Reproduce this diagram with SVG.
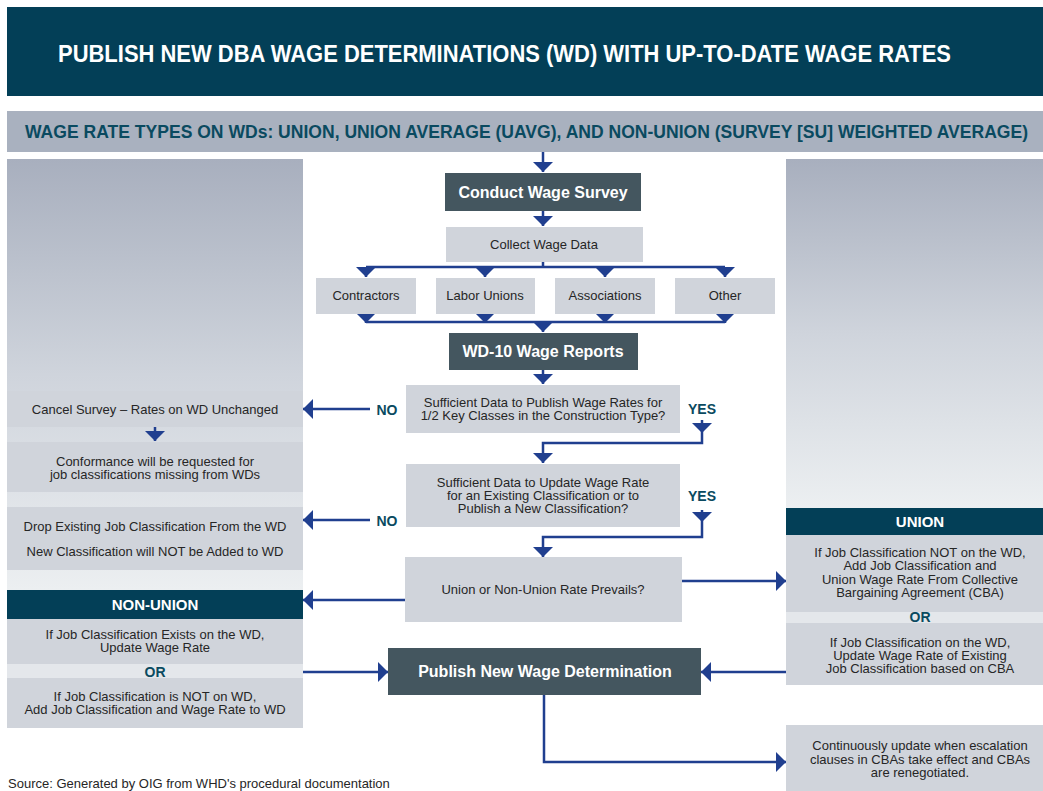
<svg xmlns="http://www.w3.org/2000/svg" width="1043" height="791" viewBox="0 0 1043 791">
<defs>
<linearGradient id="panelGrad" x1="0" y1="0" x2="0" y2="1">
<stop offset="0" stop-color="#a8afbe"/>
<stop offset="0.5" stop-color="#cfd4dc"/>
<stop offset="1" stop-color="#eceff1"/>
</linearGradient>
<marker id="arr" viewBox="0 0 10 20" refX="10" refY="10" markerWidth="10" markerHeight="20" orient="auto" markerUnits="userSpaceOnUse">
<path d="M0,0 L10,10 L0,20 z" fill="#203f8f"/>
</marker>
</defs>
<style>
.dark{fill:#44565f}
.light{fill:#d0d4db}
.teal{fill:#033f57}
.strip{fill:#e4e7eb}
.t{font-family:"Liberation Sans",Arial,sans-serif;font-size:13px;fill:#262626;text-anchor:middle}
.tb{font-family:"Liberation Sans",Arial,sans-serif;font-size:16px;font-weight:bold;fill:#ffffff;text-anchor:middle}
.lbl{font-family:"Liberation Sans",Arial,sans-serif;font-size:14px;font-weight:bold;fill:#0a4a60;text-anchor:middle}
.c{fill:none;stroke:#203f8f;stroke-width:2.5}
</style>
<rect width="1043" height="791" fill="#ffffff"/>
<g id="title">
<rect x="7" y="7" width="1036" height="89" class="teal"/>
<text x="58" y="62" font-family="Liberation Sans, Arial, sans-serif" font-size="23" font-weight="bold" fill="#ffffff" textLength="893" lengthAdjust="spacingAndGlyphs">PUBLISH NEW DBA WAGE DETERMINATIONS (WD) WITH UP-TO-DATE WAGE RATES</text>
</g>
<g id="subtitle">
<rect x="7" y="111" width="1036" height="41" fill="#a9b1bf"/>
<text x="25" y="138" font-family="Liberation Sans, Arial, sans-serif" font-size="17.5" font-weight="bold" fill="#0a4a60" textLength="1003" lengthAdjust="spacingAndGlyphs">WAGE RATE TYPES ON WDs: UNION, UNION AVERAGE (UAVG), AND NON-UNION (SURVEY [SU] WEIGHTED AVERAGE)</text>
</g>
<g id="left-panel"><rect x="7" y="159" width="296" height="431" fill="url(#panelGrad)"/></g>
<g id="right-panel"><rect x="786" y="159" width="257" height="349" fill="url(#panelGrad)"/></g>
<g id="connectors">
<path class="c" d="M543,152 V172" marker-end="url(#arr)"/>
<path class="c" d="M543,211 V226" marker-end="url(#arr)"/>
<path class="c" d="M543,262 V267 M366,267 H725"/>
<path class="c" d="M366,267 V277" marker-end="url(#arr)"/>
<path class="c" d="M485,267 V277" marker-end="url(#arr)"/>
<path class="c" d="M605,267 V277" marker-end="url(#arr)"/>
<path class="c" d="M725,267 V277" marker-end="url(#arr)"/>
<path class="c" d="M366,313 V323" marker-end="url(#arr)"/>
<path class="c" d="M485,313 V323" marker-end="url(#arr)"/>
<path class="c" d="M605,313 V323" marker-end="url(#arr)"/>
<path class="c" d="M725,313 V323" marker-end="url(#arr)"/>
<path class="c" d="M366,322 H725"/>
<path class="c" d="M543,322 V332" marker-end="url(#arr)"/>
<path class="c" d="M543,370 V384" marker-end="url(#arr)"/>
<path class="c" d="M370,409 H303" marker-end="url(#arr)"/>
<path class="c" d="M702,420 V433" marker-end="url(#arr)"/>
<path class="c" d="M702,433 V443 H543 V463" marker-end="url(#arr)"/>
<path class="c" d="M370,520 H303" marker-end="url(#arr)"/>
<path class="c" d="M702,510 V522" marker-end="url(#arr)"/>
<path class="c" d="M702,522 V537 H543 V557" marker-end="url(#arr)"/>
<path class="c" d="M682,581 H786" marker-end="url(#arr)"/>
<path class="c" d="M405,600 H303" marker-end="url(#arr)"/>
<path class="c" d="M303,672 H388" marker-end="url(#arr)"/>
<path class="c" d="M786,672 H701" marker-end="url(#arr)"/>
<path class="c" d="M544,695 V762 H786" marker-end="url(#arr)"/>
<path class="c" d="M155,427 V441" marker-end="url(#arr)"/>
</g>
<g id="conduct"><rect x="445" y="173" width="196" height="38" class="dark"/><text class="tb" x="543" y="198">Conduct Wage Survey</text></g>
<g id="collect"><rect x="446" y="227" width="197" height="35" class="light"/><text class="t" x="544" y="249">Collect Wage Data</text></g>
<g id="contractors"><rect x="316" y="278" width="100" height="36" class="light"/><text class="t" x="366" y="300">Contractors</text></g>
<g id="labor-unions"><rect x="436" y="278" width="99" height="36" class="light"/><text class="t" x="485" y="300">Labor Unions</text></g>
<g id="associations"><rect x="555" y="278" width="100" height="36" class="light"/><text class="t" x="605" y="300">Associations</text></g>
<g id="other"><rect x="675" y="278" width="100" height="36" class="light"/><text class="t" x="725" y="300">Other</text></g>
<g id="wd10"><rect x="449" y="333" width="189" height="37" class="dark"/><text class="tb" x="543" y="357">WD-10 Wage Reports</text></g>
<g id="decision1"><rect x="406" y="385" width="274" height="48" class="light"/>
<text class="t" x="543" y="407">Sufficient Data to Publish Wage Rates for</text>
<text class="t" x="543" y="420">1/2 Key Classes in the Construction Type?</text>
<text class="lbl" x="702" y="414">YES</text>
<text class="lbl" x="387" y="415">NO</text></g>
<g id="decision2"><rect x="406" y="464" width="274" height="63" class="light"/>
<text class="t" x="543" y="487">Sufficient Data to Update Wage Rate</text>
<text class="t" x="543" y="500">for an Existing Classification or to</text>
<text class="t" x="543" y="513">Publish a New Classification?</text>
<text class="lbl" x="702" y="501">YES</text>
<text class="lbl" x="387" y="526">NO</text></g>
<g id="decision3"><rect x="405" y="557" width="277" height="65" class="light"/><text class="t" x="543" y="594">Union or Non-Union Rate Prevails?</text></g>
<g id="publish"><rect x="388" y="648" width="313" height="47" class="dark"/><text class="tb" x="545" y="677">Publish New Wage Determination</text></g>
<g id="cancel"><rect x="7" y="391" width="296" height="36" class="light"/><text class="t" x="155" y="414">Cancel Survey – Rates on WD Unchanged</text></g>
<g id="conformance"><rect x="7" y="442" width="296" height="50" class="light"/>
<text class="t" x="155" y="466">Conformance will be requested for</text>
<text class="t" x="155" y="479">job classifications missing from WDs</text></g>
<g id="drop"><rect x="7" y="507" width="296" height="63" class="light"/>
<text class="t" x="155" y="531">Drop Existing Job Classification From the WD</text>
<text class="t" x="155" y="556">New Classification will NOT be Added to WD</text></g>
<g id="non-union">
<rect x="7" y="590" width="296" height="29" class="teal"/>
<text class="tb" x="155" y="610" style="font-size:15px">NON-UNION</text>
<rect x="7" y="619" width="296" height="45" class="light"/>
<text class="t" x="155" y="639">If Job Classification Exists on the WD,</text>
<text class="t" x="155" y="652">Update Wage Rate</text>
<rect x="7" y="664" width="296" height="14" class="strip"/>
<text class="lbl" x="155" y="677">OR</text>
<rect x="7" y="678" width="296" height="50" class="light"/>
<text class="t" x="155" y="701">If Job Classification is NOT on WD,</text>
<text class="t" x="155" y="714">Add Job Classification and Wage Rate to WD</text>
</g>
<g id="union">
<rect x="786" y="508" width="257" height="27" class="teal"/>
<text class="tb" x="920" y="527" style="font-size:15px">UNION</text>
<rect x="786" y="535" width="257" height="77" class="light"/>
<text class="t" x="920" y="557">If Job Classification NOT on the WD,</text>
<text class="t" x="920" y="570">Add Job Classification and</text>
<text class="t" x="920" y="584">Union Wage Rate From Collective</text>
<text class="t" x="920" y="597">Bargaining Agreement (CBA)</text>
<rect x="786" y="612" width="257" height="11" class="strip"/>
<text class="lbl" x="920" y="622">OR</text>
<rect x="786" y="623" width="257" height="62" class="light"/>
<text class="t" x="920" y="647">If Job Classification on the WD,</text>
<text class="t" x="920" y="660">Update Wage Rate of Existing</text>
<text class="t" x="920" y="673">Job Classification based on CBA</text>
</g>
<g id="continuous"><rect x="786" y="725" width="257" height="66" class="light"/>
<text class="t" x="920" y="750">Continuously update when escalation</text>
<text class="t" x="920" y="764">clauses in CBAs take effect and CBAs</text>
<text class="t" x="920" y="777">are renegotiated.</text></g>
<text x="8" y="788" font-family="Liberation Sans, Arial, sans-serif" font-size="13" fill="#262626">Source: Generated by OIG from WHD's procedural documentation</text>
</svg>
